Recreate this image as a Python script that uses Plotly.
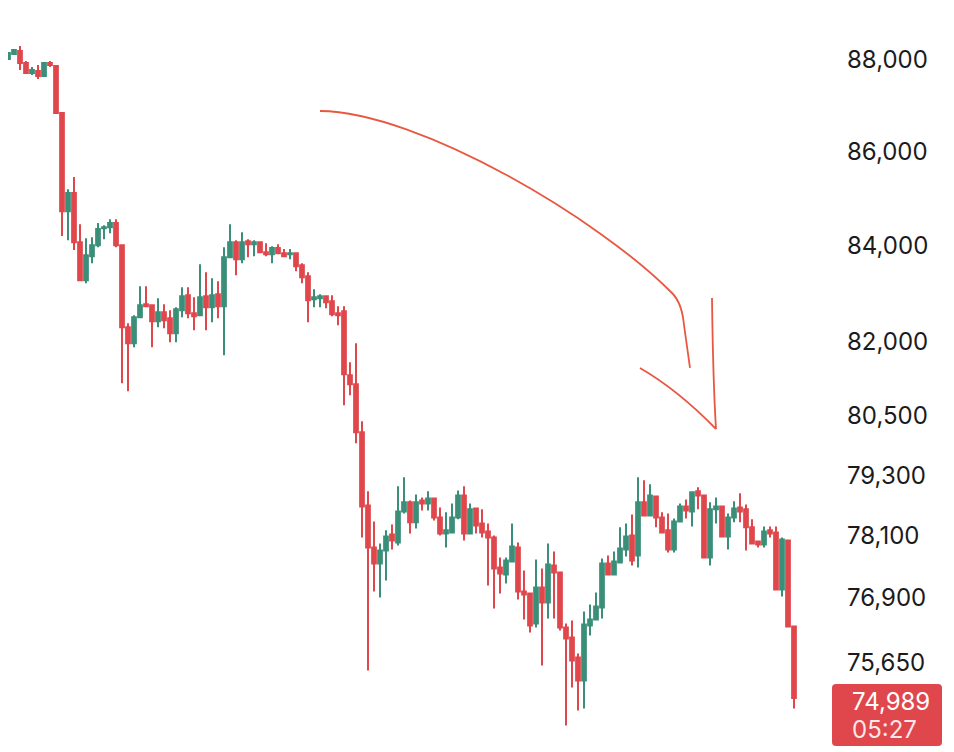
import math
import plotly.graph_objects as go

# ---------------- data ----------------
opens = [
    88155, 88020, 88133, 88199, 87934, 87713, 87758, 87647, 87934, 87868,
    86838, 84727, 85111, 84071, 83273, 83776, 84008, 84367, 84388, 84473,
    84008, 82296, 81966, 82503, 82773, 82752, 82420, 82607, 82483, 82173,
    82649, 82960, 82586, 82545, 82939, 82711, 82981, 82731, 83755, 84071,
    83713, 84092, 84029, 84071, 83860, 83818, 83945, 83839, 83818, 83839,
    83587, 83357, 82877, 82898, 82939, 82835, 82586, 82628, 81311, 81128,
    80156, 78700, 77876, 77564, 77817, 78130, 77973, 78582, 78760, 78366,
    78799, 78740, 78839, 78464, 78150, 78169, 78464, 78898, 78150, 78641,
    78346, 78189, 78071, 77486, 77350, 77603, 77876, 77020, 76981, 76404,
    77098, 76808, 77525, 77389, 76327, 76136, 75754, 75318, 76365, 76480,
    76711, 77564, 77350, 77583, 77837, 78110, 77720, 78760, 78503, 78878,
    78464, 78209, 77837, 78385, 78681, 78582, 78978, 78898, 77681, 78622,
    78681, 78091, 78464, 78661, 78622, 78268, 77993, 77934, 78209, 78169,
    77059, 78012, 76346,
]
highs = [
    88200, 88177, 88243, 88309, 87978, 87846, 87890, 87956, 87978, 87890,
    86840, 85196, 85453, 84451, 84155, 84176, 84473, 84430, 84557, 84557,
    84010, 82379, 82545, 83148, 83148, 82760, 82898, 82773, 82649, 82711,
    83127, 83127, 82918, 83608, 83441, 83315, 83252, 83966, 84451, 84113,
    84282, 84134, 84113, 84092, 84050, 83987, 84029, 83924, 83924, 83845,
    83629, 83441, 83085, 82981, 82960, 82960, 82731, 82731, 81576, 81966,
    80377, 78978, 78385, 77954, 78209, 78326, 79077, 79256, 78799, 78918,
    78858, 78978, 78858, 78661, 78563, 78740, 78997, 79077, 78740, 78650,
    78622, 78346, 78110, 77681, 77681, 78346, 77973, 77427, 77001, 77642,
    77466, 77954, 77798, 77390, 76404, 76461, 75830, 76634, 76769, 77001,
    77661, 77720, 77798, 78268, 78346, 78523, 79256, 79196, 79117, 78898,
    78563, 78543, 78444, 78740, 78819, 78960, 79057, 78900, 78760, 78858,
    78685, 78543, 78780, 78938, 78720, 78425, 78000, 78287, 78287, 78287,
    78071, 78015, 76350,
]
lows = [
    87980, 88000, 88111, 87780, 87700, 87669, 87581, 87640, 87846, 86830,
    84198, 84113, 83903, 83265, 83210, 83629, 83966, 84134, 84261, 83966,
    81148, 80985, 81884, 82500, 82711, 81884, 82296, 82276, 81987, 81987,
    82503, 82483, 82235, 82540, 82235, 82400, 82483, 81720, 83750, 83378,
    83629, 83755, 83776, 83839, 83776, 83629, 83830, 83755, 83713, 83462,
    83210, 82400, 82711, 82711, 82690, 82524, 82338, 80701, 80904, 79935,
    78071, 75508, 77020, 76904, 77233, 77837, 77915, 78543, 78150, 78248,
    78602, 78602, 78405, 78110, 77876, 78150, 78425, 78012, 78145, 78150,
    78071, 77136, 76692, 76981, 77175, 77600, 76865, 76480, 76231, 76327,
    75602, 76500, 76500, 76270, 74473, 75186, 74754, 74791, 76174, 76461,
    76500, 77330, 77330, 77580, 77700, 77525, 77486, 78484, 78484, 78268,
    78150, 77778, 77778, 78380, 78444, 78287, 78622, 77675, 77525, 78346,
    78085, 77837, 78366, 78366, 77817, 77950, 77876, 77876, 78071, 77055,
    76923, 76340, 74791,
]
closes = [
    88020, 88155, 88221, 87934, 87713, 87780, 87647, 87934, 87890, 86838,
    84727, 85111, 84071, 83273, 83797, 84008, 84346, 84388, 84473, 84008,
    82296, 81966, 82503, 82752, 82731, 82420, 82607, 82441, 82173, 82670,
    82939, 82586, 82524, 82918, 82711, 82960, 82731, 83755, 84071, 83713,
    84071, 84029, 84071, 83860, 83818, 83945, 83839, 83776, 83839, 83566,
    83336, 82856, 82918, 82939, 82815, 82566, 82545, 81331, 81128, 80156,
    78681, 77876, 77564, 77817, 78091, 78012, 78582, 78760, 78366, 78760,
    78740, 78839, 78464, 78150, 78209, 78464, 78898, 78150, 78622, 78307,
    78169, 78071, 77466, 77369, 77622, 77895, 77020, 76962, 76365, 77098,
    76808, 77544, 77389, 76327, 76116, 75697, 75318, 76384, 76480, 76730,
    77564, 77350, 77603, 77856, 78091, 77622, 78760, 78503, 78898, 78464,
    78169, 77837, 78385, 78681, 78602, 78958, 78898, 77681, 78622, 78681,
    78091, 78464, 78641, 78582, 78268, 77954, 77934, 78189, 78150, 77059,
    78032, 76346, 74989,
]
bar_index = list(range(len(closes)))

tick_values = [88000, 86000, 84000, 82000, 80500, 79300, 78100, 76900, 75650]
tick_labels = ["88,000", "86,000", "84,000", "82,000", "80,500",
               "79,300", "78,100", "76,900", "75,650"]
countdown_label = "05:27"

# ---------------- styling / layout ----------------
PAGE_PAD = 8                      # default <body> margin of the html page
W, H = 954 - PAGE_PAD, 752 - PAGE_PAD
PLOT_W, PLOT_H = 832, H
RED = "#e0474c"
GREEN = "#3b8f79"
ARROW = "#e8583f"
Y_MIN, Y_MAX = 73981, 89155       # visible price window
X_MIN, X_MAX = 1.0, 1.0 + PLOT_W / 6.0

ly0, ly1 = math.log10(Y_MIN), math.log10(Y_MAX)


def pp(x, y):
    """page pixel position -> paper coordinates string"""
    return f"{(x - PAGE_PAD) / PLOT_W:.5f},{1 - (y - PAGE_PAD) / PLOT_H:.5f}"


fig = go.Figure(go.Candlestick(
    x=bar_index, open=opens, high=highs, low=lows, close=closes,
    increasing=dict(line=dict(color=GREEN, width=2), fillcolor=GREEN),
    decreasing=dict(line=dict(color=RED, width=2), fillcolor=RED),
    whiskerwidth=0, hoverinfo="skip", showlegend=False,
))

# page-pixel y of the last close on the log axis
last_py = PAGE_PAD + (ly1 - math.log10(closes[-1])) / (ly1 - ly0) * PLOT_H

# rounded price box
bx0, bx1 = 832, 942
by0, by1 = last_py - 14, last_py + 48
r = 4
box_path = (f"M {pp(bx0 + r, by0)} L {pp(bx1 - r, by0)} Q {pp(bx1, by0)} {pp(bx1, by0 + r)} "
            f"L {pp(bx1, by1 - r)} Q {pp(bx1, by1)} {pp(bx1 - r, by1)} "
            f"L {pp(bx0 + r, by1)} Q {pp(bx0, by1)} {pp(bx0, by1 - r)} "
            f"L {pp(bx0, by0 + r)} Q {pp(bx0, by0)} {pp(bx0 + r, by0)} Z")

shapes = [
    dict(type="path", xref="paper", yref="paper", path=box_path,
         fillcolor=RED, line=dict(width=0), layer="above"),
    # hand-drawn arrow
    dict(type="path", xref="paper", yref="paper",
         path=(f"M {pp(320, 111)} C {pp(420, 112)} {pp(600, 220)} {pp(672, 293)} "
               f"Q {pp(682, 303)} {pp(684, 325)} L {pp(690, 368)}"),
         line=dict(color=ARROW, width=1.8)),
    dict(type="path", xref="paper", yref="paper",
         path=f"M {pp(712, 298)} Q {pp(713, 380)} {pp(716, 429)}",
         line=dict(color=ARROW, width=1.8)),
    dict(type="path", xref="paper", yref="paper",
         path=f"M {pp(640, 368)} Q {pp(678, 390)} {pp(716, 429)}",
         line=dict(color=ARROW, width=1.8)),
]

annotations = [
    dict(text=f"{closes[-1]:,}", xref="paper", yref="paper",
         x=(850 - PAGE_PAD) / PLOT_W, y=1 - (last_py + 3 - PAGE_PAD) / PLOT_H,
         xanchor="left", yanchor="middle", showarrow=False,
         font=dict(family="Inter", size=24, color="#ffffff")),
    dict(text=countdown_label, xref="paper", yref="paper",
         x=(850 - PAGE_PAD) / PLOT_W, y=1 - (last_py + 31 - PAGE_PAD) / PLOT_H,
         xanchor="left", yanchor="middle", showarrow=False,
         font=dict(family="Inter", size=24, color="rgba(255,255,255,0.88)")),
]

fig.update_layout(
    width=W, height=H,
    margin=dict(l=0, r=W - PLOT_W, t=0, b=0),
    paper_bgcolor="#ffffff", plot_bgcolor="#ffffff",
    boxgap=0.38, boxgroupgap=0,
    xaxis=dict(visible=False, range=[X_MIN, X_MAX], rangeslider=dict(visible=False),
               showgrid=False, zeroline=False),
    yaxis=dict(type="log", side="right", range=[ly0, ly1],
               tickvals=tick_values, ticktext=tick_labels,
               showgrid=False, zeroline=False, showline=False, ticks="",
               ticklabelstandoff=6,
               tickfont=dict(family="Inter", size=24, color="#1b1b1d")),
    shapes=shapes, annotations=annotations,
    showlegend=False,
)

fig.write_html("out.html")
